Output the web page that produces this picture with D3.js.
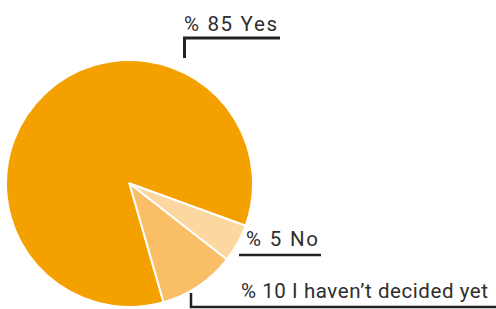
<!DOCTYPE html>
<html>
<head>
<meta charset="utf-8">
<script src="https://cdn.jsdelivr.net/npm/d3@7"></script>
<style>
  body { margin: 0; background: #fff; }
  text { font-family: Roboto, "Open Sans", sans-serif; }
</style>
</head>
<body>
<div id="chart"></div>
<script>
// Data
var categories = ["Yes", "No", "I haven’t decided yet"];
var values = [85, 5, 10];
var labels = ["% 85 Yes", "% 5 No", "% 10 I haven’t decided yet"];
var colors = ["#f4a100", "#fdd7a0", "#fabe67"];

// Chart size
var width = 496;
var height = 309;
var cx = 129.5, cy = 183.5, radius = 123.5;

var svg = d3.select("#chart")
  .append("svg")
  .attr("width", width)
  .attr("height", height);

var pie = d3.pie()
  .sort(null)
  .value(function (d) { return d; })
  .startAngle(-196 * Math.PI / 180)
  .endAngle(164 * Math.PI / 180);

var arc = d3.arc()
  .innerRadius(0)
  .outerRadius(radius);

var pieGroup = svg.append("g")
  .attr("transform", "translate(" + cx + "," + cy + ")");

pieGroup.selectAll("path")
  .data(pie(values))
  .enter()
  .append("path")
  .attr("d", arc)
  .attr("fill", function (d, i) { return colors[i]; })
  .attr("stroke", "#fff")
  .attr("stroke-width", 2)
  .attr("stroke-linejoin", "round");

// Label layout: text position, text width and leader line (polyline points)
var labelLayout = [
  { x: 184, y: 31, w: 93, line: [[184.5, 58], [184.5, 38], [280, 38]] },
  { x: 246, y: 246, w: 72, line: [[239, 255], [321, 255]] },
  { x: 241, y: 298, w: 247, line: [[191, 293], [191, 307], [496, 307]] }
];

var labelGroup = svg.append("g");

labelGroup.selectAll("polyline")
  .data(labelLayout)
  .enter()
  .append("polyline")
  .attr("points", function (d) { return d.line.map(function (p) { return p.join(","); }).join(" "); })
  .attr("fill", "none")
  .attr("stroke", "#222")
  .attr("stroke-width", function (d, i) { return i === 0 ? 3 : 2.5; });

labelGroup.selectAll("text")
  .data(labels)
  .enter()
  .append("text")
  .attr("x", function (d, i) { return labelLayout[i].x; })
  .attr("y", function (d, i) { return labelLayout[i].y; })
  .attr("textLength", function (d, i) { return labelLayout[i].w; })
  .attr("lengthAdjust", "spacing")
  .attr("font-size", 20.5)
  .attr("fill", "#2e2e2e")
  .text(function (d) { return d; });
</script>
</body>
</html>
